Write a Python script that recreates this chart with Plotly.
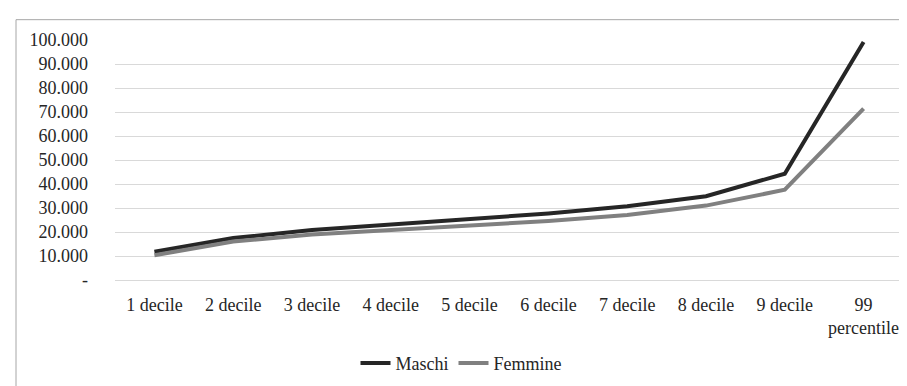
import plotly.graph_objects as go

categories = ["1 decile", "2 decile", "3 decile", "4 decile", "5 decile",
              "6 decile", "7 decile", "8 decile", "9 decile", "99<br>percentile"]
maschi = [11800, 17500, 20800, 23000, 25300, 27700, 30700, 34900, 44300, 99200]
femmine = [10300, 16000, 19000, 21000, 22600, 24600, 27100, 31000, 37600, 71400]
y_tickvals = [0, 10000, 20000, 30000, 40000, 50000, 60000, 70000, 80000, 90000, 100000]
y_ticktext = ["-", "10.000", "20.000", "30.000", "40.000", "50.000",
              "60.000", "70.000", "80.000", "90.000", "100.000"]

W, H = 907, 386
L, R, T, B = 107, 12, 32, 106
pw, ph = W - L - R, H - T - B

font = dict(family="Liberation Serif", size=18, color="#262626")

fig = go.Figure()
fig.add_trace(go.Scatter(x=categories, y=maschi, mode="lines", name="Maschi",
                         line=dict(color="#262626", width=4)))
fig.add_trace(go.Scatter(x=categories, y=femmine, mode="lines", name="Femmine",
                         line=dict(color="#808080", width=4)))

fig.update_layout(
    width=W, height=H,
    margin=dict(l=L, r=R, t=T, b=B),
    paper_bgcolor="white", plot_bgcolor="white",
    font=font,
    showlegend=True,
    legend=dict(orientation="h", x=(W / 2 - L) / pw, xanchor="center",
                y=(T + ph - 366) / ph, yanchor="middle",
                font=font, bgcolor="rgba(0,0,0,0)"),
    xaxis=dict(type="category", range=[-0.5, 9.5], showgrid=False, showline=False,
               zeroline=False, ticks="outside", ticklen=8, tickcolor="rgba(0,0,0,0)",
               tickfont=font, tickangle=0),
    yaxis=dict(range=[0, 100000], tickvals=y_tickvals, ticktext=y_ticktext,
               showgrid=True, gridcolor="#d9d9d9", gridwidth=1,
               zeroline=True, zerolinecolor="#d9d9d9", zerolinewidth=1,
               showline=False, ticks="", tickfont=font, ticklabelstandoff=26),
    shapes=[dict(type="rect", xref="paper", yref="paper",
                 x0=(8 - L) / pw, x1=(W + 20 - L) / pw,
                 y0=(T + ph - (H + 20)) / ph, y1=1 + (T - 11) / ph,
                 line=dict(color="#a6a6a6", width=1), fillcolor="rgba(0,0,0,0)",
                 layer="below")],
)

fig.write_html("out.html")
